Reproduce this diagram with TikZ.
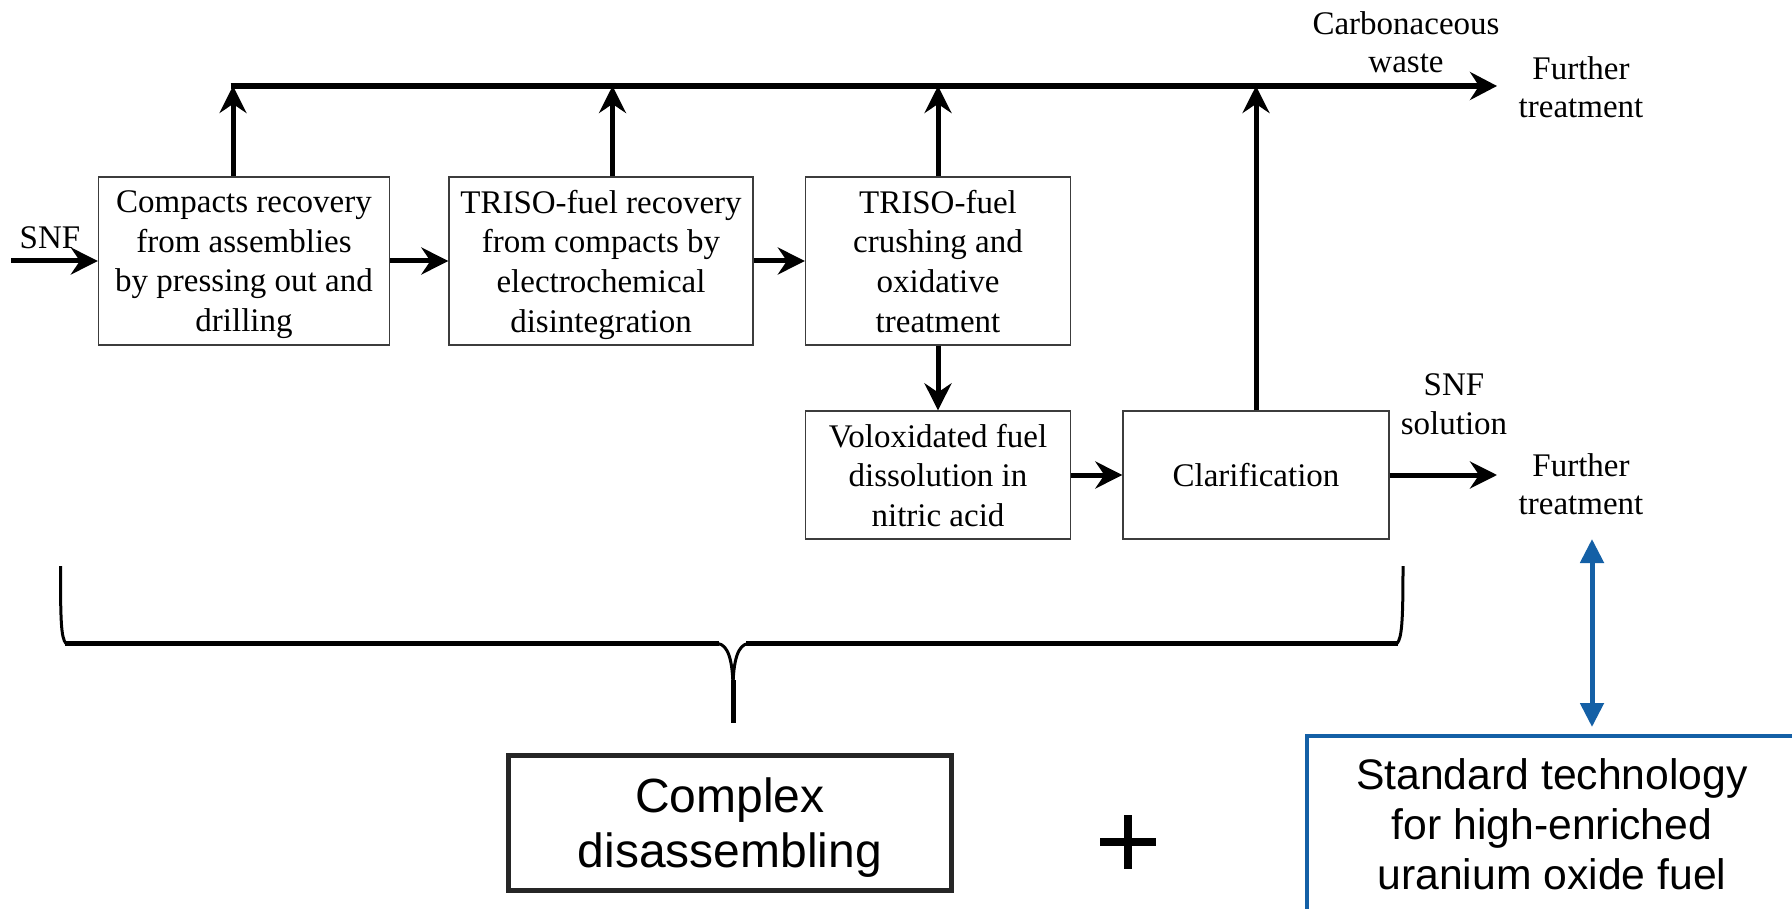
\documentclass[tikz,border=0pt]{standalone}
\usepackage{fontspec}
\setmainfont{Liberation Serif}
\newfontfamily\arialfont{Liberation Sans}
\usetikzlibrary{arrows.meta}
\definecolor{techblue}{RGB}{20,96,166}
\definecolor{boxgray}{RGB}{60,60,60}
\definecolor{darkframe}{RGB}{38,38,38}
\begin{document}
\begin{tikzpicture}[x=1pt,y=-1pt,
  proc/.style={draw=boxgray, line width=1.3pt, align=center, inner sep=0pt,
    text depth=0pt, font=\fontsize{33}{39.6}\selectfont},
  lbl/.style={align=center, inner sep=0pt, font=\fontsize{33}{38.5}\selectfont},
  arr/.style={line width=5pt, -{Stealth[length=27pt,width=27pt,inset=9pt]}},
  mainline/.style={line width=6pt, -{Stealth[length=27pt,width=28pt,inset=9pt]}},
  bluearr/.style={draw=techblue, line width=5pt,
    {Triangle[length=24pt,width=23pt]}-{Triangle[length=24pt,width=23pt]}},
  bracestyle/.style={line width=5.5pt, line cap=butt},
]
\useasboundingbox (0,0) rectangle (1792,909);

% process boxes
\node[proc, minimum width=291pt, minimum height=168pt] (b1) at (244,261)
  {Compacts recovery\\from assemblies\\by pressing out and\\drilling};
\node[proc, minimum width=304pt, minimum height=168pt] (b2) at (601,261)
  {TRISO-fuel recovery\\from compacts by\\electrochemical\\disintegration};
\node[proc, minimum width=265pt, minimum height=168pt] (b3) at (938,261)
  {TRISO-fuel\\crushing and\\oxidative\\treatment};
\node[proc, minimum width=265pt, minimum height=128pt] (b4) at (938,475)
  {Voloxidated fuel\\dissolution in\\nitric acid};
\node[proc, minimum width=266pt, minimum height=128pt] (b5) at (1256,475)
  {Clarification};

% labels
\node[lbl] (snf) at (50,238) {SNF};
\node[lbl] (carb) at (1406,42) {Carbonaceous\\waste};
\node[lbl] (ft1) at (1581,87) {Further\\treatment};
\node[lbl] (snfsol) at (1454,404) {SNF\\solution};
\node[lbl] (ft2) at (1581,484) {Further\\treatment};

% coordinates
\coordinate (in) at (11,261);
\coordinate (tl) at (233,86);
\coordinate (u2) at (612.5,86);
\coordinate (tr) at (1497,86);
\coordinate (br) at (1497,475);

% flow arrows
\draw[arr] (in) -- (b1.west);
\draw[arr] (b1.east) -- (b2.west);
\draw[arr] (b2.east) -- (b3.west);
\draw[arr] (b3.south) -- (b4.north);
\draw[arr] (b4.east) -- (b5.west);
\draw[arr] (b5.east) -- (br);

% top collector line
\draw[mainline] ([xshift=-2.5pt]tl) -- (tr);
\draw[arr] (b1.north -| tl) -- (tl);
\draw[arr] (b2.north -| u2) -- (u2);
\draw[arr] (b3.north) -- (b3.north |- tl);
\draw[arr] (b5.north) -- (b5.north |- tl);

% brace
\coordinate (brL) at (60.5,566);
\coordinate (brR) at (1403,566);
\coordinate (brT) at (733,723);
\draw[line width=3pt] (brL) .. controls (60.5,620) and (61,638) .. (66,643.5);
\draw[line width=3pt] (brR) .. controls (1403,620) and (1402,638) .. (1397,643.5);
\draw[bracestyle] (65,643.5) -- (719,643.5);
\draw[bracestyle] (746,643.5) -- (1398,643.5);
\draw[line width=3pt] (718,643.5) .. controls (728,645) and (733,660) .. (733,690);
\draw[line width=3pt] (748,643.5) .. controls (738,645) and (733,660) .. (733,690);
\draw[line width=5pt] (733,680) -- (brT);

% bottom boxes
\node[draw=darkframe, line width=4.5pt, minimum width=443pt, minimum height=135pt,
  align=center, inner sep=0pt, text depth=0pt, font=\arialfont\fontsize{48}{55}\selectfont]
  (cd) at (730,823) {Complex\\disassembling};
\node[draw=techblue, line width=4pt, minimum width=490pt, minimum height=177pt,
  align=center, inner sep=0pt, anchor=north west,
  font=\arialfont\fontsize{42.7}{50}\selectfont]
  (std) at (1305,734) {Standard technology\\for high-enriched\\uranium oxide fuel};

% plus
\coordinate (pc) at (1128,842);
\draw[line width=8pt] (1128,815) -- (1128,869);
\draw[line width=8pt] (1100,842) -- (1156,842);

% blue double arrow
\coordinate (ba) at (1592,539);
\coordinate (bb) at (1592,727);
\draw[bluearr] (ba) -- (bb);
\end{tikzpicture}
\end{document}
